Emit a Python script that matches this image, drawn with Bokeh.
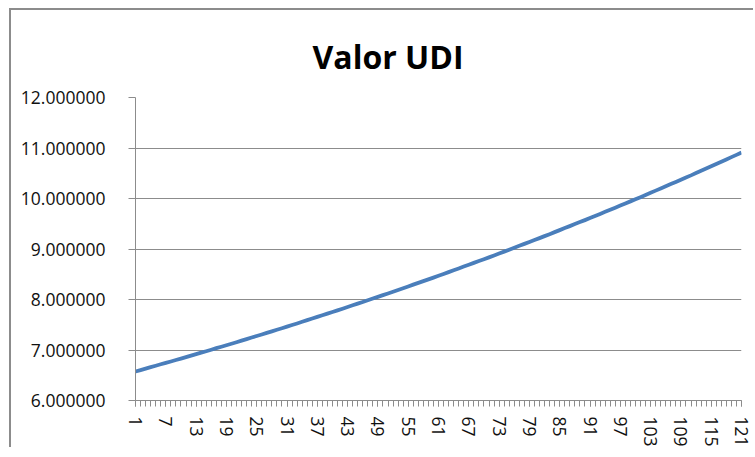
from bokeh.plotting import figure
from bokeh.models import Range1d, FixedTicker, PrintfTickFormatter
from bokeh.embed import file_html
from bokeh.resources import INLINE

# ---- data ----
periods = list(range(1, 122))
udi = [
    6.575, 6.603, 6.632, 6.660, 6.688, 6.717, 6.745, 6.773, 6.802, 6.830,
    6.858, 6.888, 6.917, 6.947, 6.976, 7.006, 7.036, 7.065, 7.095, 7.124,
    7.154, 7.185, 7.216, 7.247, 7.277, 7.308, 7.339, 7.370, 7.401, 7.431,
    7.462, 7.494, 7.526, 7.559, 7.591, 7.623, 7.655, 7.687, 7.720, 7.752,
    7.784, 7.818, 7.851, 7.885, 7.918, 7.952, 7.985, 8.019, 8.052, 8.086,
    8.119, 8.154, 8.189, 8.224, 8.259, 8.294, 8.329, 8.364, 8.399, 8.434,
    8.469, 8.506, 8.542, 8.579, 8.615, 8.652, 8.688, 8.725, 8.761, 8.798,
    8.834, 8.872, 8.910, 8.948, 8.986, 9.024, 9.063, 9.101, 9.139, 9.177,
    9.215, 9.255, 9.294, 9.334, 9.374, 9.414, 9.453, 9.493, 9.533, 9.572,
    9.612, 9.653, 9.695, 9.736, 9.778, 9.819, 9.861, 9.902, 9.943, 9.985,
    10.026, 10.069, 10.112, 10.156, 10.199, 10.242, 10.285, 10.328, 10.372, 10.415,
    10.458, 10.503, 10.548, 10.593, 10.638, 10.684, 10.729, 10.774, 10.819, 10.864,
    10.909,
]
x_tick_labels = [1, 7, 13, 19, 25, 31, 37, 43, 49, 55, 61, 67, 73, 79, 85, 91, 97, 103, 109, 115, 121]
y_ticks = [6, 7, 8, 9, 10, 11, 12]
title_text = "Valor UDI"

FONT = "Open Sans"
GRAY = "#8c8c8c"
TXT = "#111111"

p = figure(
    width=744, height=439,
    output_backend="svg", toolbar_location=None,
    x_range=Range1d(1, 121), y_range=Range1d(6, 12),
    min_border_left=124, min_border_right=14,
    min_border_top=87, min_border_bottom=46,
)
p.styles = {
    "border-left": "2px solid #8c8c8c",
    "border-top": "2px solid #8c8c8c",
    "margin-left": "9px",
    "margin-top": "8px",
}
p.outline_line_color = None
p.background_fill_color = "white"
p.border_fill_color = "white"

# title
p.title.text = title_text
p.title.align = "left"
p.title.offset = 177
p.title.text_font = FONT
p.title.text_font_size = "32px"
p.title.text_font_style = "bold"
p.title.text_color = "black"
p.title.standoff = 40

# line
p.line(periods, udi, line_color="#4a7ebb", line_width=3.8, line_join="round")

# x axis
xa = p.xaxis[0]
xa.ticker = FixedTicker(ticks=x_tick_labels, minor_ticks=periods)
xa.major_label_orientation = "vertical"
xa.major_label_text_font = FONT
xa.major_label_text_font_size = "17.5px"
xa.major_label_text_color = TXT
xa.major_label_standoff = 10
xa.major_tick_out = 6
xa.major_tick_in = 0
xa.minor_tick_out = 6
xa.minor_tick_in = 0
xa.axis_line_color = GRAY
xa.major_tick_line_color = GRAY
xa.minor_tick_line_color = GRAY

# y axis
ya = p.yaxis[0]
ya.ticker = FixedTicker(ticks=y_ticks, minor_ticks=[])
ya.formatter = PrintfTickFormatter(format="%.6f")
ya.major_label_text_font = FONT
ya.major_label_text_font_size = "17.5px"
ya.major_label_text_color = TXT
ya.major_label_standoff = 23
ya.major_tick_out = 7
ya.major_tick_in = 0
ya.axis_line_color = GRAY
ya.major_tick_line_color = GRAY

# grids
p.xgrid.visible = False
p.ygrid.ticker = FixedTicker(ticks=y_ticks)
p.ygrid.grid_line_color = GRAY
p.ygrid.grid_line_width = 1

open("out.html", "w").write(file_html(p, INLINE))
